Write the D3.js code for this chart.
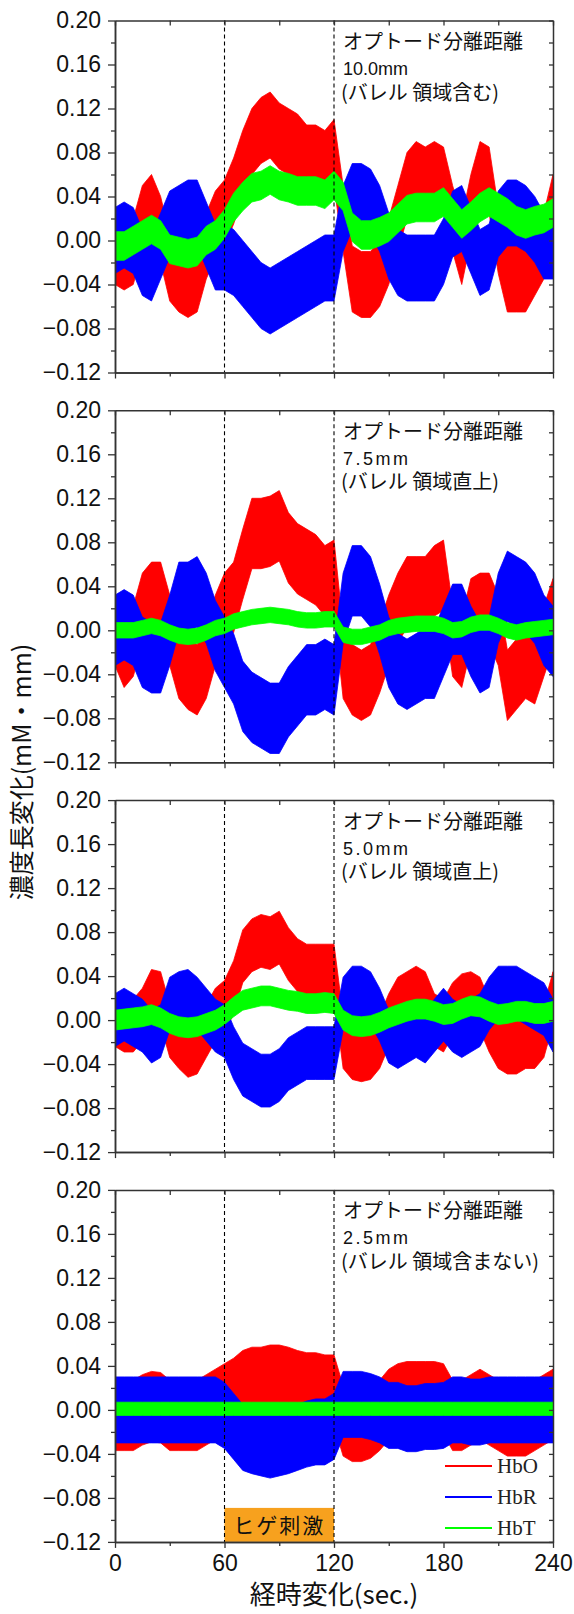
<!DOCTYPE html>
<html><head><meta charset="utf-8">
<script src="https://cdn.jsdelivr.net/npm/d3@7"></script>
<style>body{margin:0;background:#fff}svg{display:block}</style>
</head><body>
<svg id="chart" width="574" height="1614"></svg>
<script>
// ---- DATA ----
const times = [0,5,10,15,20,25,30,35,40,45,50,55,60,65,70,75,80,85,90,95,100,105,110,115,120,125,130,135,140,145,150,155,160,165,170,175,180,185,190,195,200,205,210,215,220,225,230,235,240];

// Panel 1: 10.0 mm
const hbo10 = [-0.010,-0.015,-0.010,0.020,0.030,0.010,-0.025,-0.035,-0.040,-0.035,-0.005,0.015,0.025,0.045,0.070,0.090,0.100,0.105,0.095,0.090,0.085,0.075,0.075,0.070,0.080,0.020,-0.035,-0.040,-0.040,-0.030,-0.010,0.020,0.050,0.060,0.055,0.060,0.055,0.020,-0.010,0.030,0.060,0.055,0.000,-0.035,-0.035,-0.035,-0.020,-0.005,0.030];
const hbr10 = [0.000,0.005,0.000,-0.020,-0.025,-0.005,0.015,0.020,0.025,0.025,0.005,-0.015,-0.015,-0.020,-0.030,-0.040,-0.050,-0.055,-0.050,-0.045,-0.040,-0.035,-0.030,-0.025,-0.025,0.020,0.040,0.040,0.035,0.020,-0.005,-0.020,-0.025,-0.025,-0.025,-0.025,-0.010,0.015,0.020,0.000,-0.020,-0.015,0.015,0.025,0.025,0.020,0.010,-0.005,-0.005];
const hbt10 = [-0.005,-0.005,0.000,0.005,0.010,0.005,-0.008,-0.010,-0.012,-0.010,0.000,0.005,0.015,0.030,0.040,0.048,0.050,0.055,0.050,0.048,0.045,0.045,0.045,0.042,0.050,0.040,0.012,0.005,0.005,0.008,0.012,0.020,0.028,0.030,0.030,0.030,0.035,0.025,0.015,0.022,0.030,0.035,0.030,0.025,0.018,0.015,0.018,0.020,0.025];
const spread10 = [0.030, 0.030, 0.013];

// Panel 2: 7.5 mm
const hbo75 = [0.000,-0.020,-0.010,0.020,0.030,0.030,0.000,-0.030,-0.040,-0.045,-0.030,0.000,0.020,0.030,0.060,0.088,0.088,0.090,0.095,0.075,0.065,0.060,0.055,0.045,0.050,-0.030,-0.045,-0.050,-0.045,-0.025,0.000,0.020,0.035,0.035,0.035,0.045,0.050,-0.010,-0.020,0.015,0.020,0.020,0.000,-0.050,-0.040,-0.030,-0.035,-0.010,0.015];
const hbr75 = [0.000,0.005,0.000,-0.020,-0.025,-0.025,0.000,0.030,0.030,0.035,0.020,-0.005,-0.020,-0.035,-0.060,-0.070,-0.075,-0.080,-0.080,-0.065,-0.055,-0.045,-0.045,-0.040,-0.045,0.020,0.045,0.045,0.035,0.010,-0.020,-0.035,-0.040,-0.035,-0.030,-0.030,-0.010,0.010,0.010,-0.010,-0.025,-0.020,0.020,0.040,0.035,0.030,0.020,0.000,-0.010];
const hbt75 = [0.000,0.000,0.000,0.002,0.004,0.002,-0.002,-0.005,-0.006,-0.005,-0.002,0.002,0.004,0.008,0.010,0.012,0.013,0.014,0.013,0.012,0.010,0.009,0.009,0.010,0.010,-0.004,-0.006,-0.006,-0.004,-0.002,0.002,0.004,0.005,0.006,0.006,0.006,0.004,0.000,0.001,0.005,0.007,0.007,0.004,0.000,-0.002,0.000,0.001,0.002,0.003];
const spread75 = [0.032, 0.032, 0.007];

// Panel 3: 5.0 mm
const hbo50 = [0.000,-0.005,-0.005,0.005,0.022,0.020,-0.010,-0.020,-0.028,-0.025,-0.010,0.005,0.012,0.030,0.058,0.068,0.072,0.070,0.075,0.060,0.050,0.045,0.045,0.045,0.045,-0.020,-0.030,-0.032,-0.030,-0.020,0.000,0.015,0.020,0.025,0.020,0.000,-0.005,0.010,0.018,0.020,0.015,-0.005,-0.020,-0.025,-0.025,-0.020,-0.020,-0.010,0.020];
const hbr50 = [0.000,0.005,0.000,-0.005,-0.015,-0.010,0.015,0.020,0.022,0.015,0.005,-0.005,-0.010,-0.030,-0.045,-0.050,-0.055,-0.055,-0.050,-0.040,-0.035,-0.030,-0.030,-0.030,-0.030,0.015,0.025,0.025,0.020,0.005,-0.015,-0.020,-0.015,-0.010,-0.015,-0.005,0.005,-0.005,-0.010,-0.005,0.000,0.015,0.025,0.025,0.025,0.020,0.015,0.010,-0.005];
const hbt50 = [0.000,0.001,0.002,0.003,0.005,0.002,-0.003,-0.006,-0.007,-0.006,-0.003,0.000,0.005,0.012,0.018,0.020,0.022,0.022,0.020,0.018,0.017,0.015,0.015,0.016,0.015,0.000,-0.005,-0.006,-0.005,-0.002,0.002,0.005,0.008,0.010,0.010,0.008,0.005,0.006,0.010,0.013,0.012,0.008,0.005,0.006,0.008,0.008,0.006,0.006,0.008];
const spread50 = [0.024, 0.024, 0.009];

// Panel 4: 2.5 mm
const hbo25 = [-0.005,-0.005,-0.005,0.000,0.003,0.002,-0.005,-0.005,-0.005,-0.005,0.000,0.005,0.010,0.015,0.022,0.025,0.025,0.027,0.027,0.025,0.022,0.020,0.020,0.018,0.018,-0.010,-0.015,-0.015,-0.012,-0.005,0.005,0.010,0.012,0.012,0.012,0.012,0.010,-0.005,-0.005,0.000,0.005,0.000,-0.005,-0.010,-0.010,-0.010,-0.005,0.000,0.005];
const hbr25 = [0.000,0.000,0.000,0.000,0.000,0.000,0.000,0.000,0.000,0.000,0.000,0.000,-0.005,-0.015,-0.025,-0.028,-0.030,-0.032,-0.030,-0.028,-0.025,-0.022,-0.020,-0.020,-0.015,0.005,0.005,0.005,0.003,0.000,-0.005,-0.005,-0.008,-0.008,-0.006,-0.006,-0.005,0.000,0.000,-0.002,-0.002,0.000,0.000,0.000,0.000,0.000,0.000,0.000,0.000];
const hbt25 = [0.001,0.001,0.001,0.001,0.001,0.001,0.001,0.001,0.001,0.001,0.001,0.001,0.001,0.001,0.001,0.001,0.001,0.001,0.001,0.001,0.001,0.001,0.001,0.001,0.001,0.001,0.001,0.001,0.001,0.001,0.001,0.001,0.001,0.001,0.001,0.001,0.001,0.001,0.001,0.001,0.001,0.001,0.001,0.001,0.001,0.001,0.001,0.001,0.001];
const spread25 = [0.032, 0.030, 0.006];

const seriesNames = ["HbO", "HbR", "HbT"];
const panelDistances = ["10.0mm", "7.5mm", "5.0mm", "2.5mm"];
const panelRegions = ["(バレル 領域含む)", "(バレル 領域直上)", "(バレル 領域直上)", "(バレル 領域含まない)"];
const yMajorTicks = [0.20, 0.16, 0.12, 0.08, 0.04, 0.00, -0.04, -0.08, -0.12];
const yMinorTicks = [0.18, 0.14, 0.10, 0.06, 0.02, -0.02, -0.06, -0.10];
const xMajorTicks = [0, 60, 120, 180, 240];
const xMinorTicks = [30, 90, 150, 210];
const stimWindow = [60, 120];

// ---- LAYOUT / STYLE ----
const panels = [
  {series: [hbo10, hbr10, hbt10], spread: spread10},
  {series: [hbo75, hbr75, hbt75], spread: spread75},
  {series: [hbo50, hbr50, hbt50], spread: spread50},
  {series: [hbo25, hbr25, hbt25], spread: spread25}
];
const colors = ["#ff0000", "#0000ff", "#00ff00"];
const left = 115, right = 553, ph = 352, top0 = 20.5, step = 389.8;
const axisColor = "#333";
const numFont = "'Liberation Sans', Arial, sans-serif";
const jpFont = "'Noto Sans CJK JP', 'Noto Sans', sans-serif";

const svg = d3.select("#chart");
const x = d3.scaleLinear().domain([0, 240]).range([left, right]);
const fmt = d3.format(".2f");

function styleAxis(g) {
  g.select(".domain").attr("stroke", axisColor).attr("stroke-width", 1.5);
  g.selectAll(".tick line").attr("stroke", axisColor).attr("stroke-width", 1.3);
  g.selectAll(".tick text").attr("fill", "#111").style("font-family", numFont).style("font-size", "23px");
}

panels.forEach((p, i) => {
  const top = top0 + i * step, bottom = top + ph;
  const y = d3.scaleLinear().domain([-0.12, 0.20]).range([bottom, top]);
  const g = svg.append("g");

  const clipId = "clip" + i;
  g.append("clipPath").attr("id", clipId).append("rect")
    .attr("x", left).attr("y", top).attr("width", right - left).attr("height", ph);

  const data = g.append("g").attr("clip-path", `url(#${clipId})`);
  p.series.forEach((vals, k) => {
    const w = p.spread[k];
    const area = d3.area()
      .x((d, j) => x(times[j]))
      .y0(d => y(d - w))
      .y1(d => y(d + w))
      .curve(d3.curveLinear);
    data.append("path").datum(vals).attr("d", area)
      .attr("fill", colors[k]).attr("stroke", colors[k]).attr("stroke-width", 0.8);
  });

  const isLast = i === panels.length - 1;
  if (isLast) {
    g.append("rect").attr("x", x(stimWindow[0])).attr("y", bottom - 34)
      .attr("width", x(stimWindow[1]) - x(stimWindow[0])).attr("height", 34)
      .attr("fill", "#f7a11e");
    g.append("text").attr("x", (x(stimWindow[0]) + x(stimWindow[1])) / 2).attr("y", bottom - 9)
      .attr("text-anchor", "middle").style("font-family", jpFont).style("font-size", "21px")
      .style("letter-spacing", "2px").attr("fill", "#111").text("ヒゲ刺激");
  }

  stimWindow.forEach(t => {
    g.append("line").attr("x1", x(t)).attr("x2", x(t)).attr("y1", top).attr("y2", bottom)
      .attr("stroke", "#000").attr("stroke-width", 1.1).attr("stroke-dasharray", "4,3");
  });

  const gl = g.append("g").attr("transform", `translate(${left},0)`)
    .call(d3.axisLeft(y).tickValues(yMajorTicks).tickSize(7).tickSizeOuter(0).tickPadding(7).tickFormat(fmt));
  styleAxis(gl);
  const glm = g.append("g").attr("transform", `translate(${left},0)`)
    .call(d3.axisLeft(y).tickValues(yMinorTicks).tickSize(4).tickSizeOuter(0).tickFormat(""));
  styleAxis(glm);
  const gr = g.append("g").attr("transform", `translate(${right},0)`)
    .call(d3.axisRight(y).tickValues(yMajorTicks.concat(yMinorTicks)).tickSize(-4).tickSizeOuter(0).tickFormat(""));
  styleAxis(gr);
  const gt = g.append("g").attr("transform", `translate(0,${top})`)
    .call(d3.axisTop(x).tickValues(xMajorTicks.concat(xMinorTicks)).tickSize(-5).tickSizeOuter(0).tickFormat(""));
  styleAxis(gt);
  const gb = g.append("g").attr("transform", `translate(0,${bottom})`)
    .call(d3.axisBottom(x).tickValues(xMajorTicks).tickSize(6).tickSizeOuter(0).tickPadding(7)
      .tickFormat(isLast ? d3.format("d") : ""));
  styleAxis(gb);
  const gbm = g.append("g").attr("transform", `translate(0,${bottom})`)
    .call(d3.axisBottom(x).tickValues(xMinorTicks).tickSize(4).tickSizeOuter(0).tickFormat(""));
  styleAxis(gbm);

  const ax = 343;
  g.append("text").attr("x", ax).attr("y", top + 28.5).style("font-family", jpFont)
    .style("font-size", "20px").attr("fill", "#111").text("オプトード分離距離");
  g.append("text").attr("x", ax).attr("y", top + 54.5).style("font-family", numFont)
    .style("font-size", "18px").style("letter-spacing", i === 0 ? "0px" : "2.5px")
    .attr("fill", "#111").text(panelDistances[i]);
  g.append("text").attr("x", ax - 2).attr("y", top + 79).style("font-family", jpFont)
    .style("font-size", "20px").attr("fill", "#111").text(panelRegions[i]);

  if (isLast) {
    const ly = [bottom - 76, bottom - 45, bottom - 14];
    seriesNames.forEach((name, k) => {
      g.append("line").attr("x1", 445).attr("x2", 492).attr("y1", ly[k]).attr("y2", ly[k])
        .attr("stroke", colors[k]).attr("stroke-width", 2);
      g.append("text").attr("x", 497).attr("y", ly[k] + 7)
        .style("font-family", "'Liberation Serif', 'Times New Roman', serif")
        .style("font-size", "21px").attr("fill", "#222").text(name);
    });
  }
});

svg.append("text").attr("transform", "translate(20,772) rotate(-90)")
  .attr("text-anchor", "middle").attr("dominant-baseline", "central")
  .style("font-family", jpFont).style("font-size", "25px").attr("fill", "#111")
  .text("濃度長変化(mM・mm)");
svg.append("text").attr("x", 334).attr("y", 1604).attr("text-anchor", "middle")
  .style("font-family", jpFont).style("font-size", "26px").attr("fill", "#111")
  .text("経時変化(sec.)");
</script>
</body></html>
